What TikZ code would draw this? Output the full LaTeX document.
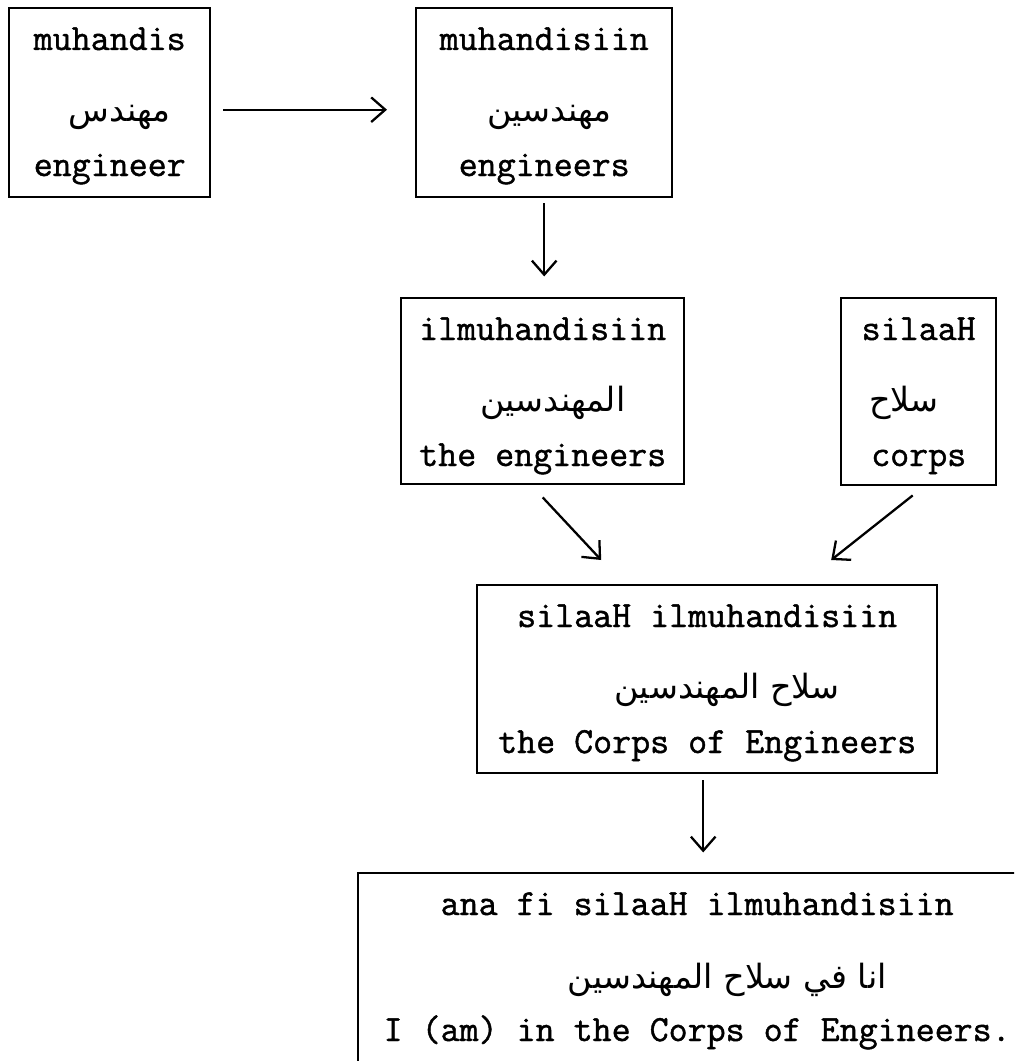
\documentclass[tikz,border=0pt]{standalone}
\usepackage{fontspec}
\newfontfamily\courfont[FakeBold=1.2]{Latin Modern Mono}
\newfontfamily\arabicfont[Script=Arabic]{DejaVu Sans}
\TeXXeTstate=1
\usetikzlibrary{arrows.meta,calc}
\begin{document}
\begin{tikzpicture}[x=0.02cm,y=-0.02cm,
  box/.style={draw, line width=1.4pt, rectangle, inner sep=0pt, anchor=north west},
  en/.style={font=\courfont\fontsize{21}{24}\selectfont, anchor=base, inner sep=0pt},
  ar/.style={font=\arabicfont\fontsize{19}{22}\selectfont, anchor=base, inner sep=0pt},
  link/.style={line width=1.3pt, -{Straight Barb[length=8pt,width=14pt]}}
]
\fill[white] (0,0) rectangle (1014,1061);
\useasboundingbox (0,0) rectangle (1014,1061);
\clip (0,0) rectangle (1014,1061);

% boxes
\node[box, minimum width=4.02cm, minimum height=3.78cm] (b1) at (8,7) {};
\node[box, minimum width=5.12cm, minimum height=3.78cm] (b2) at (415,7) {};
\node[box, minimum width=5.66cm, minimum height=3.72cm] (b3) at (400,297) {};
\node[box, minimum width=3.10cm, minimum height=3.74cm] (b4) at (840,297) {};
\node[box, minimum width=9.20cm, minimum height=3.76cm] (b5) at (476,584) {};
\node[box, minimum width=13.56cm, minimum height=4.2cm] (b6) at (357,872) {};

% box texts: transliteration, Arabic, English
\node[en] (b1a) at ($(b1.north)+(0,43)$) {muhandis};
\node[ar] (b1b) at ($(b1.north)+(10,114)$) {\beginR مهندس\endR};
\node[en] (b1c) at ($(b1.north)+(0,169)$) {engineer};

\node[en] (b2a) at ($(b2.north)+(0,43)$) {muhandisiin};
\node[ar] (b2b) at ($(b2.north)+(5,114)$) {\beginR مهندسين\endR};
\node[en] (b2c) at ($(b2.north)+(0,169)$) {engineers};

\node[en] (b3a) at ($(b3.north)+(0,43)$) {ilmuhandisiin};
\node[ar] (b3b) at ($(b3.north)+(10,114)$) {\beginR المهندسين\endR};
\node[en] (b3c) at ($(b3.north)+(0,169)$) {the engineers};

\node[en] (b4a) at ($(b4.north)+(0,43)$) {silaaH};
\node[ar] (b4b) at ($(b4.north)+(-15,114)$) {\beginR سلاح\endR};
\node[en] (b4c) at ($(b4.north)+(0,169)$) {corps};

\node[en] (b5a) at ($(b5.north)+(0,43)$) {silaaH ilmuhandisiin};
\node[ar] (b5b) at ($(b5.north)+(20,114)$) {\beginR سلاح المهندسين\endR};
\node[en] (b5c) at ($(b5.north)+(0,169)$) {the Corps of Engineers};

\node[en] (b6a) at ($(b6.north)+(0,43)$) {ana fi silaaH ilmuhandisiin};
\node[ar] (b6b) at ($(b6.north)+(30,116)$) {\beginR انا في سلاح المهندسين\endR};
\node[en] (b6c) at ($(b6.north)+(0,169)$) {I (am) in the Corps of Engineers.};

% connectors
\draw[link] ($(b1.east)+(12,7)$) -- ($(b2.west)+(-28,7)$);
\draw[link] ($(b2.south)+(0,5)$) -- ($(b2.south)+(0,78)$);
\draw[link] ($(b3.south)+(0,12)$) -- ($(b5.north)+(-106,-24)$);
\draw[link] ($(b4.south)+(-6,9)$) -- ($(b5.north)+(124,-24)$);
\draw[link] ($(b5.south)+(-4,6)$) -- ($(b5.south)+(-4,78)$);
\end{tikzpicture}
\end{document}
